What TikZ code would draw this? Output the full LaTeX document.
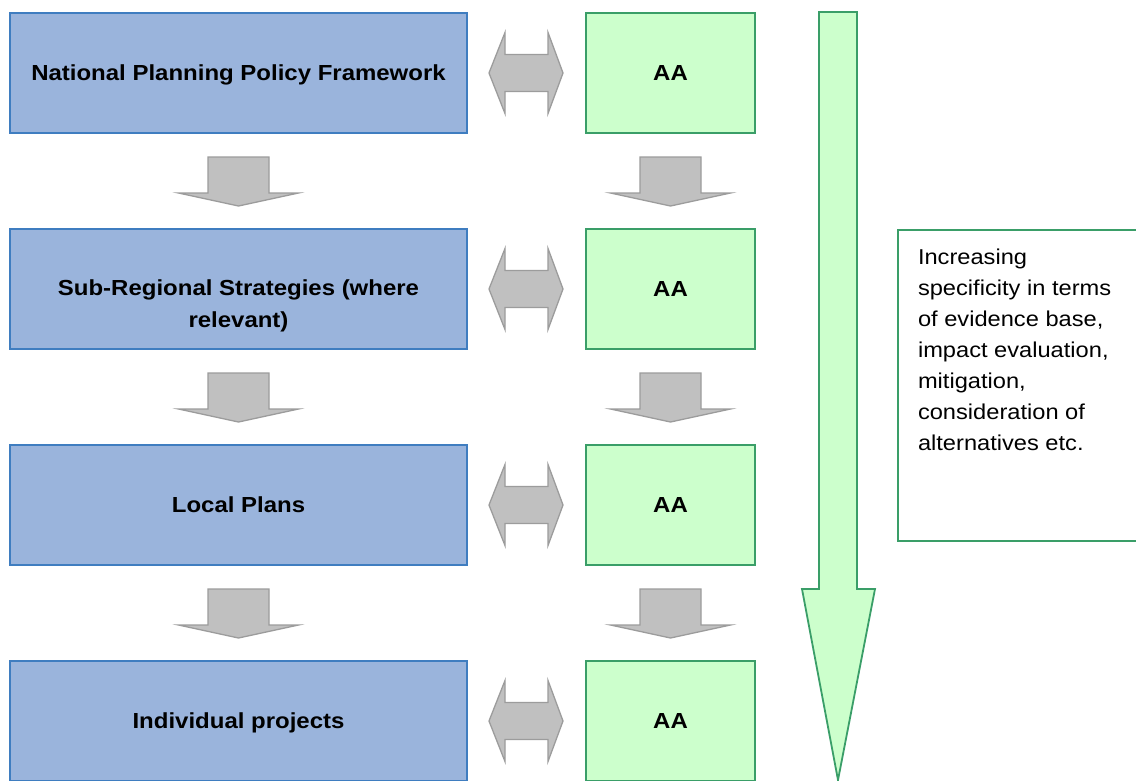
\documentclass[tikz,border=0pt]{standalone}
\usepackage{fontspec}
\setmainfont{Liberation Sans}[FakeStretch=1.1]
\usetikzlibrary{calc}
\definecolor{fillblue}{HTML}{9AB4DC}
\definecolor{lineblue}{HTML}{3F7DC0}
\definecolor{fillgreen}{HTML}{CCFFCC}
\definecolor{linegreen}{HTML}{3A9E68}
\definecolor{fillgray}{HTML}{C0C0C0}
\definecolor{linegray}{HTML}{9C9C9C}
\newcommand\lblfont{\bfseries\fontsize{21.8}{32}\selectfont}
\newcommand\txtfont{\fontsize{21.5}{31}\selectfont}
\begin{document}
\begin{tikzpicture}[x=1pt,y=-1pt,
  boxbase/.style={rectangle, line width=2pt, outer sep=0pt, inner sep=0pt,
    minimum height=120pt, font=\lblfont, text height=18.9pt, text depth=4.6pt},
  bluebox/.style={boxbase, draw=lineblue, fill=fillblue, minimum width=457pt},
  greenbox/.style={boxbase, draw=linegreen, fill=fillgreen, minimum width=169pt},
  plaintext/.style={inner sep=0pt, outer sep=0pt},
  grayarrow/.style={draw=linegray, fill=fillgray, line width=1.3pt, line join=miter},
  bigarrow/.style={draw=linegreen, fill=fillgreen, line width=1.8pt, line join=miter},
  infobox/.style={rectangle, draw=linegreen, fill=white, line width=1.6pt, outer sep=0pt, inner sep=0pt}
]
\useasboundingbox (0,0) rectangle (1136,780);
\clip (0,0) rectangle (1136,780);
\fill[white] (0,0) rectangle (1136,780);

% left column
\node[bluebox] (b1) at (238.5,73) {National Planning Policy Framework};
\node[bluebox] (b2) at (238.5,289) {};
\node[plaintext, font=\lblfont, align=center, anchor=north] (b2t) at (238.5,280)
  {Sub-Regional Strategies (where\\relevant)};
\node[bluebox] (b3) at (238.5,505) {Local Plans};
\node[bluebox] (b4) at (238.5,721) {Individual projects};

% right column
\node[greenbox] (g1) at (670.5,73) {AA};
\node[greenbox] (g2) at (670.5,289) {AA};
\node[greenbox] (g3) at (670.5,505) {AA};
\node[greenbox] (g4) at (670.5,721) {AA};

% down block arrows
\foreach \a/\b in {b1/b2,b2/b3,b3/b4,g1/g2,g2/g3,g3/g4}{
  \draw[grayarrow]
    ($(\a.south)+(-30.5,24)$) -- ($(\a.south)+(30.5,24)$) --
    ($(\a.south)+(30.5,60)$) -- ($(\a.south)+(60,60)$) --
    ($(\b.north)+(0,-23)$) --
    ($(\a.south)+(-60,60)$) -- ($(\a.south)+(-30.5,60)$) -- cycle;
}

% double block arrows
\foreach \a/\b in {b1/g1,b2/g2,b3/g3,b4/g4}{
  \coordinate (L) at ($(\a.east)+(22,0)$);
  \coordinate (R) at ($(\b.west)+(-23,0)$);
  \draw[grayarrow]
    (L) -- ($(L)+(16,-40.5)$) -- ($(L)+(16,-18.5)$) --
    ($(R)+(-15,-18.5)$) -- ($(R)+(-15,-40.5)$) -- (R) --
    ($(R)+(-15,40.5)$) -- ($(R)+(-15,18.5)$) --
    ($(L)+(16,18.5)$) -- ($(L)+(16,40.5)$) -- cycle;
}

% big green arrow
\draw[bigarrow] (819,12) -- (857,12) -- (857,589) -- (875,589) -- (838,780)
  -- (802,589) -- (819,589) -- cycle;

% info box
\node[infobox, anchor=north west, minimum width=242pt, minimum height=311pt] (tb) at (898,230) {};
\node[plaintext, font=\txtfont, align=left, anchor=north west] (tbt) at (918,249)
  {Increasing\\specificity in terms\\of evidence base,\\impact evaluation,\\mitigation,\\consideration of\\alternatives etc.};
\end{tikzpicture}
\end{document}
